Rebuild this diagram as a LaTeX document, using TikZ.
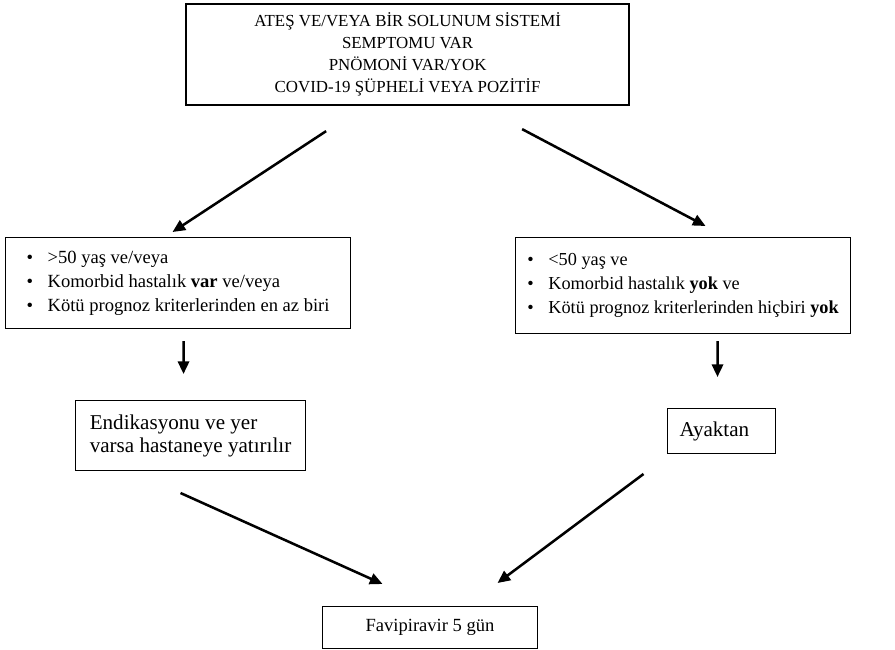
\documentclass[tikz,border=0pt]{standalone}
\usepackage{fontspec}
\setmainfont{Liberation Serif}
\usetikzlibrary{arrows.meta, calc}

\begin{document}
\begin{tikzpicture}[x=0.025cm, y=-0.025cm,
    box/.style={draw, line width=0.7pt, anchor=north west, inner sep=0pt,
      font=\fontsize{13.2}{17}\selectfont},
    bul/.style={align=left},
    arr/.style={-{Triangle[length=9pt, width=8pt]}, line width=1.8pt}]
    \useasboundingbox (0, 0) rectangle (895, 650);
    \node[box, line width=1.5pt, minimum width=11.075cm, minimum height=2.525cm,
      align=center, font=\fontsize{12}{15.6}\selectfont] (a) at (185, 3) {
      ATEŞ VE/VEYA BİR SOLUNUM SİSTEMİ\\
      SEMPTOMU VAR\\
      PNÖMONİ VAR/YOK\\
      COVID-19 ŞÜPHELİ VEYA POZİTİF
    };
    \node[box, bul, minimum width=8.625cm, minimum height=2.275cm] (b) at (5, 237) {
      \makebox[15pt][l]{\textbullet}>50 yaş ve/veya\\
      \makebox[15pt][l]{\textbullet}Komorbid hastalık \textbf{var} ve/veya\\
      \makebox[15pt][l]{\textbullet}Kötü prognoz kriterlerinden en az biri
    };
    \node[box, bul, minimum width=8.375cm, minimum height=2.4cm,
      font=\fontsize{13}{17}\selectfont] (c) at (515, 237) {
      \makebox[15pt][l]{\textbullet}<50 yaş ve\\
      \makebox[15pt][l]{\textbullet}Komorbid hastalık \textbf{yok} ve\\
      \makebox[15pt][l]{\textbullet}Kötü prognoz kriterlerinden hiçbiri \textbf{yok}
    };
    \node[box, bul, minimum width=5.75cm, minimum height=1.75cm,
      font=\fontsize{15}{16.4}\selectfont] (d) at (75, 400) {
      Endikasyonu ve yer\\
      varsa hastaneye yatırılır
    };
    \node[box, minimum width=2.7cm, minimum height=1.125cm,
      font=\fontsize{15}{17}\selectfont] (e) at (667, 408) {Ayaktan\hspace*{10pt}};
    \node[box, minimum width=5.375cm, minimum height=1.05cm] (f) at (322, 606) {Favipiravir 5 gün};
    \path[arr]
    ($(a.south)+(-81.5, 25)$) edge ($(b.north)+(-5.5, -5)$)
    ($(a.south)+(114.5, 23)$) edge ($(c.north)+(22.5, -11)$)
    ($(b.south)+(5.5, 12)$) edge ($(d.north)+(-7, -26)$)
    ($(c.south)+(34.5, 7)$) edge ($(e.north)+(-4, -31)$)
    ($(d.south)+(-10, 22)$) edge ($(f.north)+(-47.5, -22)$)
    ($(e.south)+(-78, 20)$) edge ($(f.north)+(67.5, -23)$);
  \end{tikzpicture}
\end{document}
